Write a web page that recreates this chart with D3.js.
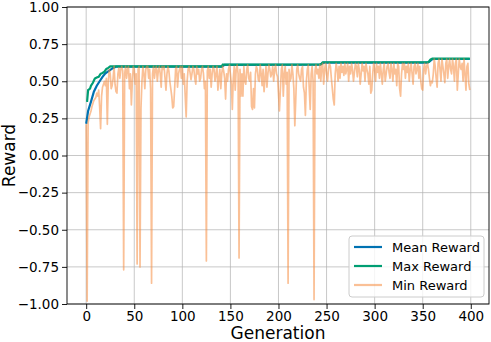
<!DOCTYPE html>
<html>
<head>
<meta charset="utf-8">
<script src="https://cdn.jsdelivr.net/npm/d3@7"></script>
<style>
  body { margin: 0; background: #fff; }
  text { font-family: "DejaVu Sans", sans-serif; }
</style>
</head>
<body>
<div id="chartContainer"></div>
<script>
// Series
const seriesNames = ["Mean Reward", "Max Reward", "Min Reward"];
const xTicks = [0, 50, 100, 150, 200, 250, 300, 350, 400];
const yTicks = [-1, -0.75, -0.5, -0.25, 0, 0.25, 0.5, 0.75, 1];

// mean and max as [generation, value] points where the curve changes
const meanReward = [
  [0, 0.214], [2, 0.30], [5, 0.363], [8, 0.43], [11, 0.47], [14, 0.50], [17, 0.53],
  [20, 0.553], [24, 0.572], [28, 0.59], [31, 0.598], [141, 0.599], [144, 0.61],
  [243, 0.611], [247, 0.625], [355, 0.626], [357, 0.632], [360, 0.648], [362, 0.65], [399, 0.65]
];
const maxReward = [
  [0, 0.367], [1, 0.367], [2, 0.44], [4, 0.45], [5, 0.47], [7, 0.49], [9, 0.518],
  [11, 0.525], [13, 0.53], [15, 0.55], [17, 0.556], [19, 0.565], [21, 0.583],
  [23, 0.59], [25, 0.6], [141, 0.6], [142, 0.612], [244, 0.613], [246, 0.628],
  [356, 0.628], [358, 0.645], [360, 0.652], [399, 0.652]
];
// min reward, one value per generation 0..399
const minReward = [
  0.21, -0.98, 0.22, 0.26, 0.28, 0.30, 0.33, 0.35, 0.37, 0.38,
  0.39, 0.42, 0.40, 0.44, 0.33, 0.18, 0.40, 0.46, 0.48, 0.50,
  0.47, 0.52, 0.21, 0.50, 0.58, 0.55, 0.45, 0.47, 0.52, 0.60,
  0.48, 0.43, 0.42, 0.55, 0.59, 0.52, 0.58, 0.60, 0.57, -0.77,
  0.55, 0.60, 0.52, 0.58, 0.60, 0.45, 0.55, 0.34, 0.50, 0.60,
  0.58, 0.48, 0.55, -0.73, 0.58, 0.60, -0.75, 0.32, 0.50, 0.60,
  0.55, 0.45, 0.58, 0.60, 0.60, 0.52, 0.58, 0.45, -0.86, 0.55,
  0.60, 0.52, 0.58, 0.60, 0.50, 0.57, 0.60, 0.55, 0.46, 0.60,
  0.58, 0.60, 0.52, 0.44, 0.55, 0.60, 0.57, 0.50, 0.45, 0.40,
  0.32, 0.33, 0.45, 0.58, 0.60, 0.46, 0.55, 0.58, 0.60, 0.52,
  0.60, 0.48, 0.55, 0.40, 0.26, 0.50, 0.58, 0.60, 0.56, 0.51,
  0.55, 0.60, 0.58, 0.52, 0.48, 0.60, 0.55, 0.58, 0.50, 0.52,
  0.58, 0.60, 0.55, 0.45, 0.50, -0.71, 0.57, 0.60, 0.52, 0.58,
  0.46, 0.55, 0.60, 0.58, 0.50, 0.55, 0.60, 0.44, 0.52, 0.58,
  0.45, 0.55, 0.60, 0.57, 0.52, 0.38, 0.55, 0.50, 0.58, 0.61,
  0.55, 0.48, 0.31, 0.52, 0.60, 0.44, 0.58, 0.61, 0.55, -0.69,
  0.58, 0.40, 0.55, 0.40, 0.60, 0.50, 0.48, 0.58, 0.61, 0.52,
  0.50, 0.56, 0.33, 0.31, 0.45, 0.32, 0.55, 0.60, 0.58, 0.51,
  0.50, 0.61, 0.55, 0.47, 0.58, 0.43, 0.52, 0.60, 0.46, 0.55,
  0.61, 0.58, 0.53, 0.55, 0.60, 0.50, 0.58, 0.61, 0.55, 0.53,
  0.42, 0.30, 0.45, 0.58, 0.61, 0.40, 0.55, 0.60, 0.48, 0.56,
  -0.86, 0.58, 0.50, 0.52, 0.61, 0.55, 0.45, 0.20, 0.38, 0.58,
  0.61, 0.55, 0.52, 0.50, 0.58, 0.60, 0.46, 0.42, 0.27, 0.50,
  0.58, 0.61, 0.45, 0.31, 0.55, 0.60, 0.50, -0.97, 0.57, 0.61,
  0.55, 0.58, 0.52, 0.61, 0.50, 0.60, 0.62, 0.48, 0.58, 0.62,
  0.55, 0.50, 0.58, 0.62, 0.60, 0.52, 0.45, 0.38, 0.34, 0.55,
  0.62, 0.58, 0.50, 0.60, 0.52, 0.62, 0.56, 0.60, 0.54, 0.62,
  0.55, 0.58, 0.62, 0.50, 0.60, 0.55, 0.62, 0.58, 0.50, 0.56,
  0.62, 0.60, 0.53, 0.62, 0.58, 0.48, 0.55, 0.62, 0.57, 0.60,
  0.50, 0.62, 0.58, 0.55, 0.48, 0.60, 0.42, 0.44, 0.55, 0.62,
  0.58, 0.50, 0.62, 0.56, 0.60, 0.52, 0.62, 0.55, 0.48, 0.58,
  0.62, 0.50, 0.55, 0.60, 0.62, 0.56, 0.52, 0.62, 0.58, 0.50,
  0.62, 0.55, 0.58, 0.47, 0.62, 0.60, 0.45, 0.40, 0.55, 0.62,
  0.58, 0.62, 0.52, 0.60, 0.56, 0.62, 0.50, 0.58, 0.62, 0.55,
  0.48, 0.60, 0.62, 0.55, 0.58, 0.62, 0.52, 0.60, 0.50, 0.45,
  0.44, 0.58, 0.62, 0.55, 0.60, 0.62, 0.58, 0.52, 0.47, 0.50,
  0.49, 0.55, 0.65, 0.60, 0.52, 0.46, 0.62, 0.65, 0.58, 0.50,
  0.65, 0.60, 0.55, 0.49, 0.62, 0.65, 0.52, 0.60, 0.65, 0.58,
  0.55, 0.65, 0.60, 0.50, 0.62, 0.65, 0.44, 0.55, 0.65, 0.60,
  0.58, 0.62, 0.50, 0.65, 0.55, 0.44, 0.60, 0.62, 0.48, 0.44
];

const colors = ["#0072b2", "#009e73", "#f58d40"];

// chart size and margins
const width = 491;
const height = 342;
const marginTop = 7;
const marginRight = 2;
const marginBottom = 38;
const marginLeft = 67;

const x = d3.scaleLinear().domain([-19.95, 418.95]).range([marginLeft, width - marginRight]);
const y = d3.scaleLinear().domain([-1, 1]).range([height - marginBottom, marginTop]);

const svg = d3.create("svg")
    .attr("width", width)
    .attr("height", height)
    .attr("viewBox", [0, 0, width, height]);

// grid lines
svg.append("g")
    .selectAll("line")
    .data(xTicks)
    .join("line")
    .attr("x1", d => x(d)).attr("x2", d => x(d))
    .attr("y1", marginTop).attr("y2", height - marginBottom)
    .attr("stroke", "#b0b0b0").attr("stroke-opacity", 0.7).attr("stroke-width", 1);
svg.append("g")
    .selectAll("line")
    .data(yTicks)
    .join("line")
    .attr("x1", marginLeft).attr("x2", width - marginRight)
    .attr("y1", d => y(d)).attr("y2", d => y(d))
    .attr("stroke", "#b0b0b0").attr("stroke-opacity", 0.7).attr("stroke-width", 1);

// lines
const line = d3.line().x(d => x(d[0])).y(d => y(d[1]));
const minPoints = minReward.map((v, i) => [i, v]);

svg.append("path")
    .attr("fill", "none")
    .attr("stroke", colors[0])
    .attr("stroke-width", 2.2)
    .attr("d", line(meanReward));
svg.append("path")
    .attr("fill", "none")
    .attr("stroke", colors[1])
    .attr("stroke-width", 2.2)
    .attr("d", line(maxReward));
svg.append("path")
    .attr("fill", "none")
    .attr("stroke", colors[2])
    .attr("stroke-opacity", 0.55)
    .attr("stroke-width", 1.7)
    .attr("stroke-linejoin", "round")
    .attr("d", line(minPoints));

// axes
const xAxis = svg.append("g")
    .attr("transform", `translate(0,${height - marginBottom})`)
    .call(d3.axisBottom(x).tickValues(xTicks).tickSize(5).tickPadding(2).tickSizeOuter(0));
const yAxis = svg.append("g")
    .attr("transform", `translate(${marginLeft},0)`)
    .call(d3.axisLeft(y).tickValues(yTicks).tickFormat(d3.format(".2f")).tickSize(5).tickPadding(3).tickSizeOuter(0));
[xAxis, yAxis].forEach(g => {
    g.select(".domain").remove();
    g.selectAll("text").attr("font-size", 13.5).attr("fill", "#000").attr("font-family", "DejaVu Sans");
    g.selectAll("line").attr("stroke", "#000").attr("stroke-width", 0.9);
});

// frame
svg.append("rect")
    .attr("x", marginLeft).attr("y", marginTop)
    .attr("width", width - marginRight - marginLeft)
    .attr("height", height - marginBottom - marginTop)
    .attr("fill", "none").attr("stroke", "#000").attr("stroke-width", 0.9);

// axis labels
svg.append("text")
    .attr("x", (marginLeft + width - marginRight) / 2)
    .attr("y", 339)
    .attr("text-anchor", "middle")
    .attr("font-size", 17)
    .text("Generation");
svg.append("text")
    .attr("transform", `translate(15,${(marginTop + height - marginBottom) / 2}) rotate(-90)`)
    .attr("text-anchor", "middle")
    .attr("font-size", 17)
    .text("Reward");

// legend
const legend = svg.append("g").attr("transform", "translate(349,236)");
legend.append("rect")
    .attr("width", 135).attr("height", 61).attr("rx", 3)
    .attr("fill", "#fff").attr("fill-opacity", 0.8)
    .attr("stroke", "#cccccc").attr("stroke-width", 1);
seriesNames.forEach((name, i) => {
    const ly = 11 + i * 19;
    legend.append("line")
        .attr("x1", 5).attr("x2", 33).attr("y1", ly).attr("y2", ly)
        .attr("stroke", colors[i])
        .attr("stroke-opacity", i === 2 ? 0.55 : 1)
        .attr("stroke-width", 2.2);
    legend.append("text")
        .attr("x", 43).attr("y", ly + 5)
        .attr("font-size", 13)
        .text(name);
});

document.getElementById("chartContainer").appendChild(svg.node());
</script>
</body>
</html>
